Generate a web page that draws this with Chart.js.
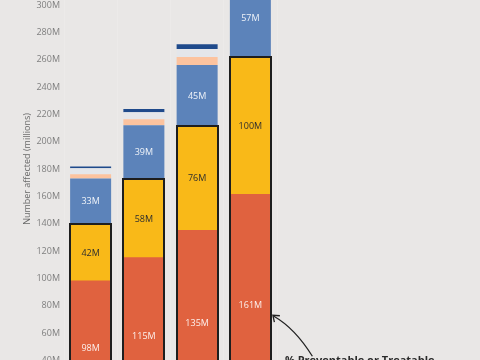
<!DOCTYPE html>
<html><head><meta charset="utf-8">
<script src="https://cdn.jsdelivr.net/npm/chart.js@4.4.1/dist/chart.umd.min.js"></script>
<style>
html,body{margin:0;padding:0;background:#e9e7e6;width:480px;height:360px;overflow:hidden;}
#wrap{position:relative;width:480px;height:360px;overflow:hidden;}
canvas{position:absolute;left:0;top:-100px;}
</style></head><body>
<div id="wrap"><canvas id="c" width="480" height="560"></canvas></div>
<script>
// ---- data ----
const categories = ['1', '2', '3', '4'];
const preventable = [98, 115, 135, 161.4];
const treatable = [41.6, 57.6, 76.3, 100.4];
const otherCauses = [33.4, 39.4, 44.8, 57.4];
const minorA = [3.2, 4.4, 5.8, 7];
const minorB = [4.3, 5.1, 5.9, 7];
const minorC = [1.3, 2.4, 3.4, 4];
const yMin = 0, yMax = 360, yStep = 20;
const annotationText = '% Preventable or Treatable';
const annotationValue = 73;
const yTitle = 'Number affected (millions)';

const FONT = "'Open Sans', 'DejaVu Sans', sans-serif";

const outlinePlugin = {
  id: 'groupOutline',
  afterDatasetsDraw(chart) {
    const ctx = chart.ctx;
    const low = chart.getDatasetMeta(0).data;
    const high = chart.getDatasetMeta(1).data;
    ctx.save();
    ctx.strokeStyle = '#1e1e1e';
    ctx.lineWidth = 2;
    low.forEach((bar, i) => {
      const a = bar.getProps(['x', 'width', 'base'], true);
      const b = high[i].getProps(['y'], true);
      const left = Math.round(a.x - a.width / 2);
      const right = Math.round(a.x + a.width / 2);
      const top = Math.round(b.y);
      const bottom = Math.round(a.base);
      ctx.strokeRect(left, top, right - left, bottom - top);
    });
    ctx.restore();
  }
};

const labelPlugin = {
  id: 'segLabels',
  afterDatasetsDraw(chart) {
    const ctx = chart.ctx;
    ctx.save();
    ctx.font = '9px ' + FONT;
    ctx.textAlign = 'center';
    ctx.textBaseline = 'middle';
    chart.data.datasets.forEach((ds, di) => {
      if (!ds.labelColor) return;
      const meta = chart.getDatasetMeta(di);
      meta.data.forEach((bar, i) => {
        const v = ds.data[i];
        const p = bar.getProps(['x', 'y', 'base'], true);
        ctx.fillStyle = ds.labelColor;
        ctx.fillText(Math.round(v) + 'M', p.x, (p.y + p.base) / 2 + 0.5);
      });
    });
    ctx.restore();
  }
};

const arrowPlugin = {
  id: 'arrowNote',
  afterDraw(chart) {
    const ctx = chart.ctx;
    const bar = chart.getDatasetMeta(0).data[3];
    const p = bar.getProps(['x', 'width'], true);
    const tipX = p.x + p.width / 2 + 2;
    const tipY = chart.scales.y.getPixelForValue(annotationValue);
    const endX = tipX + 39.5, endY = tipY + 41;
    ctx.save();
    ctx.strokeStyle = '#222';
    ctx.lineWidth = 1.3;
    ctx.beginPath();
    ctx.moveTo(tipX + 1, tipY + 1);
    ctx.quadraticCurveTo(tipX + 22, tipY + 13, endX, endY);
    ctx.stroke();
    ctx.beginPath();
    ctx.moveTo(tipX + 7, tipY + 0.5);
    ctx.lineTo(tipX, tipY);
    ctx.lineTo(tipX + 1.5, tipY + 7);
    ctx.stroke();
    ctx.fillStyle = '#2a2a2a';
    ctx.font = 'bold 11px ' + FONT;
    ctx.textAlign = 'left';
    ctx.textBaseline = 'alphabetic';
    ctx.fillText(annotationText, tipX + 12, tipY + 49);
    ctx.restore();
  }
};

new Chart(document.getElementById('c'), {
  type: 'bar',
  data: {
    labels: categories,
    datasets: [
      { data: preventable, backgroundColor: '#e0623f', borderWidth: 0, inflateAmount: 0.5, labelColor: 'rgba(255,255,255,0.9)' },
      { data: treatable, backgroundColor: '#f9b918', borderWidth: 0, inflateAmount: 0.5, labelColor: '#2e2e2e' },
      { data: otherCauses, backgroundColor: '#5c83ba', borderWidth: 0, labelColor: 'rgba(255,255,255,0.9)' },
      { data: minorA, backgroundColor: '#fcc39f', borderWidth: 0 },
      { data: minorB, backgroundColor: '#e4e6ea', borderWidth: 0 },
      { data: minorC, backgroundColor: '#1f4a8b', borderWidth: 0 }
    ]
  },
  options: {
    responsive: false,
    devicePixelRatio: 1,
    animation: false,
    layout: { padding: { top: 23, bottom: 45, left: 0, right: 203 } },
    datasets: { bar: { categoryPercentage: 1, barPercentage: 0.77 } },
    plugins: { legend: { display: false }, tooltip: { enabled: false } },
    scales: {
      x: {
        stacked: true,
        ticks: { display: false },
        border: { display: false },
        grid: { display: true, color: 'rgba(255,255,255,0.14)', lineWidth: 1, drawTicks: false, offset: true }
      },
      y: {
        stacked: true,
        min: yMin, max: yMax,
        ticks: { stepSize: yStep, padding: 4, color: '#7f7f7f', font: { family: FONT, size: 9 },
          callback: v => v + 'M' },
        grid: { display: false, drawTicks: false },
        border: { display: false },
        title: { display: true, text: yTitle, color: '#6a6a6a', font: { family: FONT, size: 9 },
          padding: { top: 22, bottom: 0 } },
        afterFit(scale) { scale.width = 64; }
      }
    }
  },
  plugins: [outlinePlugin, labelPlugin, arrowPlugin]
});
</script>
</body></html>
